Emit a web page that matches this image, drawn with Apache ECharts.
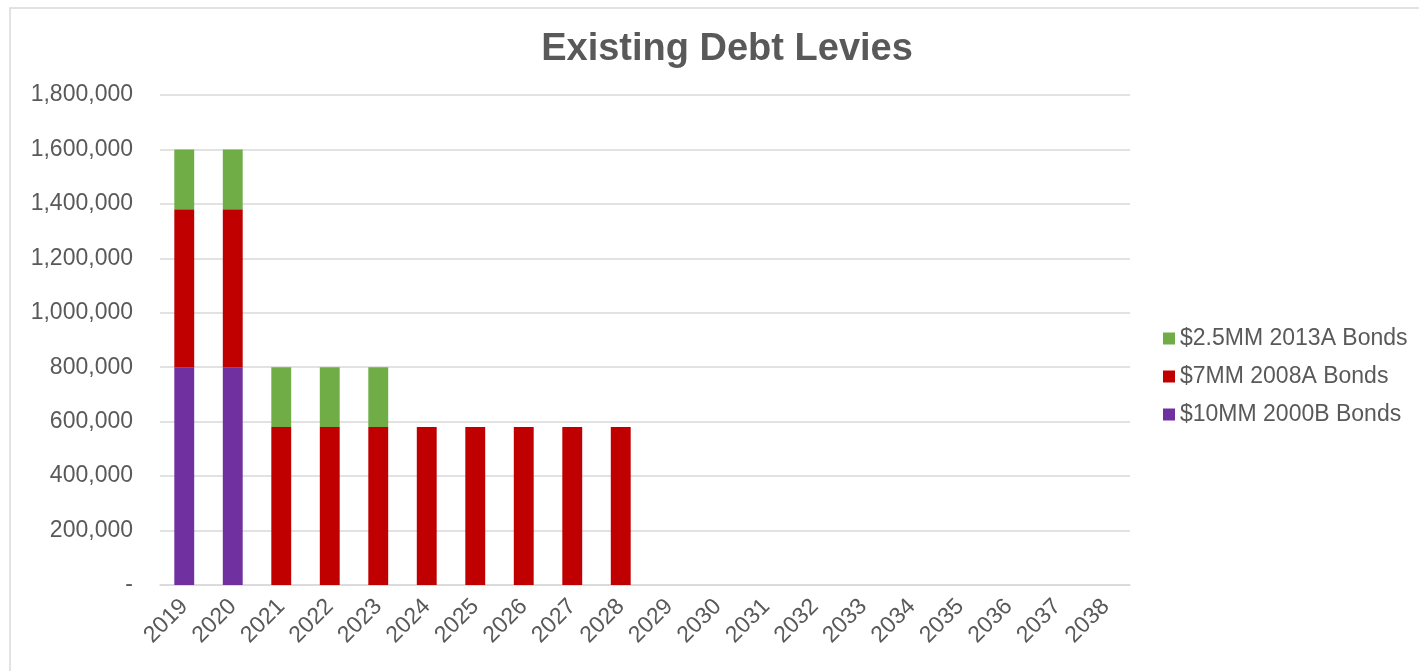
<!DOCTYPE html>
<html><head><meta charset="utf-8">
<script src="https://cdn.jsdelivr.net/npm/echarts@6/dist/echarts.min.js"></script>
<style>html,body{margin:0;padding:0;background:#fff}#c{width:1419px;height:671px}</style>
</head><body><div id="c"></div>
<script>
const years = ['2019','2020','2021','2022','2023','2024','2025','2026','2027','2028','2029','2030','2031','2032','2033','2034','2035','2036','2037','2038'];
const bonds2000B = [800000,800000,0,0,0,0,0,0,0,0,0,0,0,0,0,0,0,0,0,0];
const bonds2008A = [580000,580000,580000,580000,580000,580000,580000,580000,580000,580000,0,0,0,0,0,0,0,0,0,0];
const bonds2013A = [220000,220000,220000,220000,220000,0,0,0,0,0,0,0,0,0,0,0,0,0,0,0];
const yTicks = [0,200000,400000,600000,800000,1000000,1200000,1400000,1600000,1800000];

const chart = echarts.init(document.getElementById('c'));
const font = 'Arial, "Liberation Sans", sans-serif';
chart.setOption({
  animation:false,
  textStyle:{fontFamily:font},
  graphic:[{type:'rect',shape:{x:10,y:8,width:1420,height:680},style:{fill:'none',stroke:'#d9d9d9',lineWidth:1.5},silent:true}],
  title:{text:'Existing Debt Levies',left:722,textAlign:'center',top:26,textStyle:{fontSize:38,fontWeight:'bold',color:'#595959',fontFamily:font}},
  legend:{orient:'vertical',left:1158,top:322,itemWidth:12,itemHeight:12,itemGap:15,icon:'rect',
    textStyle:{fontSize:23,color:'#595959',fontFamily:font},
    data:['$2.5MM 2013A Bonds','$7MM 2008A Bonds','$10MM 2000B Bonds']},
  grid:{left:160,right:289,top:95,bottom:86,containLabel:false},
  xAxis:{type:'category',data:years,
    axisLine:{lineStyle:{color:'#d9d9d9',width:1.5}},axisTick:{show:false},
    axisLabel:{rotate:45,fontSize:23,color:'#595959',margin:18,interval:0,fontFamily:font}},
  yAxis:{type:'value',min:0,max:1800000,interval:200000,
    axisLine:{show:false},axisTick:{show:false},
    splitLine:{lineStyle:{color:'#d9d9d9',width:1.5}},
    axisLabel:{fontSize:23,color:'#595959',margin:27,fontFamily:font,
      formatter:v=> v===0?'-':v.toLocaleString('en-US')}},
  series:[
    {name:'$10MM 2000B Bonds',type:'bar',stack:'a',data:bonds2000B,barWidth:'41%',itemStyle:{color:'#7030a0'}},
    {name:'$7MM 2008A Bonds',type:'bar',stack:'a',data:bonds2008A,itemStyle:{color:'#c00000'}},
    {name:'$2.5MM 2013A Bonds',type:'bar',stack:'a',data:bonds2013A,itemStyle:{color:'#70ad47'}}
  ]
});
</script></body></html>
